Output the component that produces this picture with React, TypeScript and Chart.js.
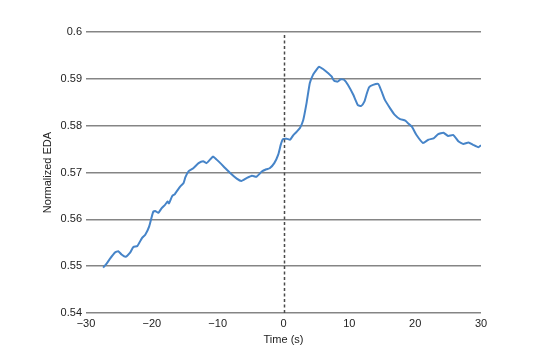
import React, { useEffect, useRef } from "react";
import { Chart, registerables } from "chart.js";

Chart.register(...registerables);

const timeSec = [
  -27.4, -26.9, -26.4, -25.6, -25.1, -24.6, -24.0, -23.3, -22.8, -22.2, -21.5, -21.0, -20.4, -19.8, -19.5, -19.0,
  -18.5, -18.0, -17.6, -17.4, -16.9, -16.5, -15.7, -15.2, -14.9, -14.4, -13.7, -12.9, -12.2, -11.7, -11.2, -10.7,
  -10.2, -9.1, -8.1, -7.1, -6.4, -5.6, -4.8, -4.1, -3.3, -2.6, -2.1, -1.4, -0.8, -0.4, -0.1, 0.5, 1.0, 1.5, 2.0,
  2.5, 3.0, 3.5, 4.0, 4.5, 5.0, 5.4, 6.0, 6.8, 7.3, 7.7, 8.2, 8.7, 9.2, 9.8, 10.6, 11.3, 11.8, 12.3, 12.6, 13.0,
  13.6, 14.4, 14.9, 15.4, 16.2, 16.9, 17.7, 18.5, 19.0, 19.5, 20.2, 21.2, 22.0, 22.8, 23.5, 24.3, 25.0, 25.8,
  26.6, 27.3, 28.1, 28.8, 29.6, 30.0,
];

const edaValues = [
  0.5497, 0.5505, 0.5515, 0.5529, 0.5532, 0.5525, 0.552, 0.5529, 0.5541, 0.5543, 0.556, 0.5567, 0.5585, 0.5616,
  0.5618, 0.5614, 0.5624, 0.5631, 0.5638, 0.5634, 0.565, 0.5654, 0.567, 0.5677, 0.569, 0.5703, 0.5709, 0.572,
  0.5724, 0.572, 0.5727, 0.5734, 0.5728, 0.5713, 0.5699, 0.5687, 0.5682, 0.5688, 0.5693, 0.5691, 0.5702, 0.5707,
  0.5709, 0.572, 0.5738, 0.576, 0.5771, 0.5772, 0.577, 0.578, 0.5787, 0.5795, 0.5812, 0.5848, 0.5891, 0.5909,
  0.5919, 0.5926, 0.5921, 0.5912, 0.5905, 0.5896, 0.5894, 0.5899, 0.5898, 0.5887, 0.5866, 0.5844, 0.5842, 0.5852,
  0.5866, 0.5882, 0.5887, 0.5889, 0.5873, 0.5855, 0.5837, 0.5823, 0.5814, 0.5811, 0.5804, 0.5798, 0.578, 0.5763,
  0.577, 0.5773, 0.5782, 0.5785, 0.5778, 0.578, 0.5766, 0.5761, 0.5764, 0.5759, 0.5754, 0.5758,
];

const xTicks = [-30, -20, -10, 0, 10, 20, 30];
const yTicks = [0.54, 0.55, 0.56, 0.57, 0.58, 0.59, 0.6];
const EVENT_TIME = 0;
const X_TITLE = "Time (s)";
const Y_TITLE = "Normalized EDA";

const FONT_FAMILY = "'Liberation Sans', Arial, sans-serif";

const eventLinePlugin = {
  id: "eventLine",
  afterDatasetsDraw(chart: any) {
    const { ctx, chartArea, scales } = chart;
    const x = Math.round(scales.x.getPixelForValue(EVENT_TIME)) + 0.5;
    ctx.save();
    ctx.strokeStyle = "#4a4a4a";
    ctx.lineWidth = 1.5;
    ctx.setLineDash([3, 2.5]);
    ctx.beginPath();
    ctx.moveTo(x, chartArea.top + 3);
    ctx.lineTo(x, chartArea.bottom);
    ctx.stroke();
    ctx.restore();
  },
};

export default function App() {
  const ref = useRef<HTMLCanvasElement | null>(null);

  useEffect(() => {
    document.body.style.margin = "0";
    if (!ref.current) return;
    const points = timeSec.map((t, i) => ({ x: t, y: edaValues[i] }));
    const chart = new Chart(ref.current, {
      type: "line",
      data: {
        datasets: [
          {
            data: points,
            borderColor: "rgb(70, 132, 200)",
            borderWidth: 2,
            pointRadius: 0,
            tension: 0.15,
            fill: false,
          },
        ],
      },
      options: {
        animation: false,
        responsive: false,
        maintainAspectRatio: false,
        layout: { padding: { top: 32, right: 53, bottom: 0, left: 0 } },
        plugins: { legend: { display: false }, tooltip: { enabled: false } },
        scales: {
          x: {
            type: "linear",
            min: xTicks[0],
            max: xTicks[xTicks.length - 1],
            afterBuildTicks: (scale: any) => {
              scale.ticks = xTicks.map((v) => ({ value: v }));
            },
            afterFit: (scale: any) => {
              scale.height = 45;
            },
            grid: { display: false, drawTicks: false },
            border: { display: false },
            ticks: {
              padding: 4,
              color: "#222",
              font: { family: FONT_FAMILY, size: 11 },
              maxRotation: 0,
              callback: (v: any) => String(v).replace("-", "\u2212"),
            },
            title: {
              display: true,
              text: X_TITLE,
              color: "#222",
              font: { family: FONT_FAMILY, size: 11 },
              padding: { top: 0, bottom: 11 },
            },
          },
          y: {
            min: yTicks[0],
            max: yTicks[yTicks.length - 1],
            afterBuildTicks: (scale: any) => {
              scale.ticks = yTicks.map((v) => ({ value: v }));
            },
            afterFit: (scale: any) => {
              scale.width = 86;
            },
            grid: { color: "#858585", lineWidth: 1.5, drawTicks: false },
            border: { display: false },
            ticks: {
              padding: 4,
              color: "#222",
              font: { family: FONT_FAMILY, size: 11 },
              callback: (v: any) => String(Number(Number(v).toFixed(2))),
            },
            title: {
              display: true,
              text: Y_TITLE,
              color: "#222",
              font: { family: FONT_FAMILY, size: 11 },
              padding: { top: 41, bottom: 0 },
            },
          },
        },
      },
      plugins: [eventLinePlugin],
    });
    return () => chart.destroy();
  }, []);

  return (
    <div style={{ width: 534, height: 358 }}>
      <canvas ref={ref} width={534} height={358} />
    </div>
  );
}
